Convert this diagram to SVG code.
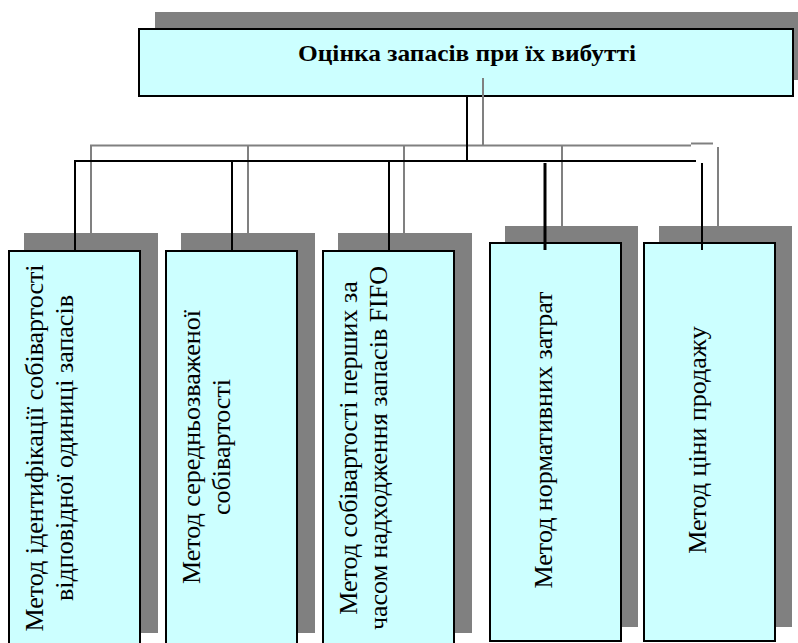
<svg xmlns="http://www.w3.org/2000/svg" width="798" height="643" viewBox="0 0 798 643">
  <defs>
    <style>
      .shadow { fill: #808080; stroke: none; }
      .box { fill: #CCFFFF; stroke: #000000; stroke-width: 2; }
      .title { font-family: "Liberation Serif", "DejaVu Serif", serif; font-weight: bold; font-size: 24px; fill: #000000; }
      .lbl { font-family: "Liberation Serif", "Times New Roman", serif; font-size: 26px; fill: #000000; text-anchor: middle; }
      .gray { stroke: #808080; stroke-width: 2; fill: none; }
      .black { stroke: #000000; stroke-width: 2; fill: none; }
    </style>
  </defs>
  <rect width="798" height="643" fill="#FFFFFF"/>

  <g id="root">
    <rect class="shadow" x="155" y="12" width="650" height="68"/>
    <rect class="box" x="139" y="29" width="654" height="67"/>
    <text class="title" x="467" y="61" text-anchor="middle" textLength="338" lengthAdjust="spacingAndGlyphs">Оцінка запасів при їх вибутті</text>
  </g>

  <g id="n1">
    <rect class="shadow" x="24" y="233" width="134" height="400"/>
    <rect class="box" x="9" y="251" width="131" height="396"/>
    <text class="lbl" transform="translate(42.5,448) rotate(-90)">Метод ідентифікації собівартості</text>
    <text class="lbl" transform="translate(72.5,448) rotate(-90)">відповідної одиниці запасів</text>
  </g>

  <g id="n2">
    <rect class="shadow" x="181" y="233" width="134" height="400"/>
    <rect class="box" x="166" y="251" width="131" height="396"/>
    <text class="lbl" transform="translate(199.5,447) rotate(-90)">Метод середньозваженої</text>
    <text class="lbl" transform="translate(229.5,447) rotate(-90)">собівартості</text>
  </g>

  <g id="n3">
    <rect class="shadow" x="338" y="233" width="134" height="400"/>
    <rect class="box" x="323" y="251" width="131" height="396"/>
    <text class="lbl" transform="translate(356.5,448) rotate(-90)">Метод собівартості перших за</text>
    <text class="lbl" transform="translate(386.5,448) rotate(-90)">часом надходження запасів FIFO</text>
  </g>

  <g id="n4">
    <rect class="shadow" x="505" y="226" width="133" height="401"/>
    <rect class="box" x="490" y="243" width="131" height="398"/>
    <text class="lbl" transform="translate(552,440) rotate(-90)">Метод нормативних затрат</text>
  </g>

  <g id="n5">
    <rect class="shadow" x="659" y="226" width="133" height="401"/>
    <rect class="box" x="644" y="243" width="131" height="398"/>
    <text class="lbl" transform="translate(706,440) rotate(-90)">Метод ціни продажу</text>
  </g>

  <g id="connectors">
    <path class="gray" d="M483,78 V145"/>
    <path class="gray" d="M91,233 V145.5 H691"/>
    <path class="gray" d="M691,143.5 H713"/>
    <path class="gray" d="M248,145 V233"/>
    <path class="gray" d="M404,145 V233"/>
    <path class="gray" d="M562,145 V226"/>
    <path class="gray" d="M718,147 V226"/>
    <path class="black" d="M467,96 V161"/>
    <path class="black" d="M75,251 V161 H696"/>
    <path class="black" d="M232,161 V251"/>
    <path class="black" d="M389,161 V251"/>
    <path class="black" d="M545,163 V250" style="stroke-width:3"/>
    <path class="black" d="M702,163 V250"/>
  </g>
</svg>
